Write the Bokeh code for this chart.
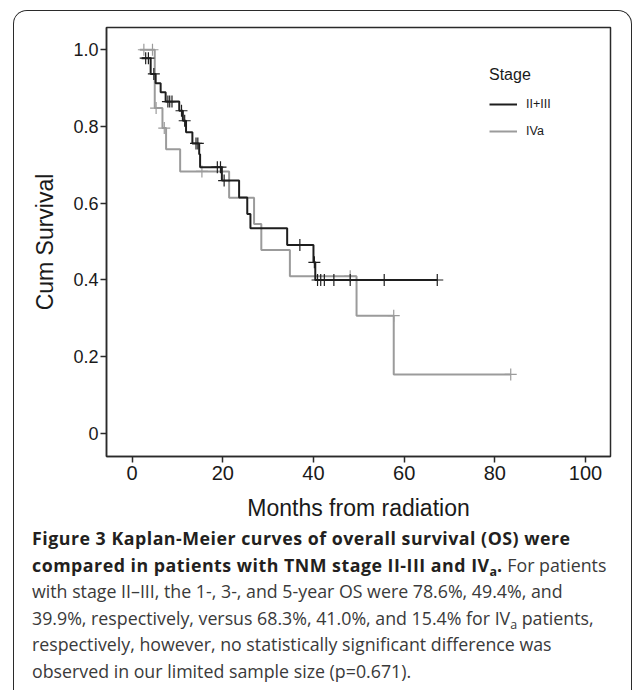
from bokeh.plotting import figure
from bokeh.models import Legend, LegendItem, FixedTicker, Div, Range1d
from bokeh.layouts import column
from bokeh.embed import file_html
from bokeh.resources import INLINE

# ---- data ----
x_ticks = [0, 20, 40, 60, 80, 100]
y_ticks = [0, 0.2, 0.4, 0.6, 0.8, 1.0]
y_tick_labels = ["0", "0.2", "0.4", "0.6", "0.8", "1.0"]

# Stage II+III : step points (time in months, survival after event)
bk_t = [2.1, 4.1, 5.2, 6.3, 7.4, 10.4, 11.2, 11.9, 13.3, 14.8, 15.0, 19.8, 23.6, 25.4, 26.1, 34.2, 40.0, 40.4, 67.3]
bk_s = [0.978, 0.937, 0.913, 0.889, 0.865, 0.841, 0.815, 0.785, 0.756, 0.728, 0.694, 0.659, 0.615, 0.572, 0.535, 0.491, 0.446, 0.400, 0.400]
# Stage II+III : censored observations
bk_ct = [3.0, 3.6, 4.8, 7.9, 8.3, 8.8, 10.9, 11.6, 14.1, 14.5, 18.8, 19.5, 20.3, 37.0, 40.2, 40.9, 41.6, 42.4, 44.5, 48.1, 55.6, 67.3]
bk_cs = [0.978, 0.978, 0.937, 0.865, 0.865, 0.865, 0.841, 0.815, 0.756, 0.756, 0.694, 0.694, 0.659, 0.491, 0.446, 0.400, 0.400, 0.400, 0.400, 0.400, 0.400, 0.400]

# Stage IVa : step points
gy_t = [1.7, 5.0, 6.7, 7.5, 10.6, 21.4, 26.9, 28.5, 34.8, 49.5, 57.7, 83.5]
gy_s = [1.0, 0.848, 0.796, 0.741, 0.683, 0.614, 0.546, 0.478, 0.410, 0.307, 0.154, 0.154]
# Stage IVa : censored observations
gy_ct = [2.6, 4.5, 5.3, 7.1, 15.4, 48.1, 57.7, 83.5]
gy_cs = [1.0, 1.0, 0.848, 0.796, 0.683, 0.410, 0.307, 0.154]

series_names = ["II+III", "IVa"]
legend_title = "Stage"
x_label = "Months from radiation"
y_label = "Cum Survival"

BLACK = "#1e1e1e"
GRAY = "#9b9b9b"
FONT = "Liberation Sans"

p = figure(width=613, height=517,
           x_range=Range1d(-5.64, 105.5), y_range=Range1d(-0.060, 1.058),
           output_backend="svg", toolbar_location=None,
           min_border_left=92, min_border_right=17, min_border_top=16, min_border_bottom=72)
p.background_fill_color = "white"
p.border_fill_color = "white"
p.xgrid.visible = False
p.ygrid.visible = False
p.outline_line_color = "#2a2a2a"
p.outline_line_width = 1.5

r_gy = p.step(gy_t, gy_s, mode="after", line_color=GRAY, line_width=2)
p.scatter(gy_ct, gy_cs, marker="cross", size=12, line_color=GRAY, line_width=1.2)
r_bk = p.step(bk_t, bk_s, mode="after", line_color=BLACK, line_width=2)
p.scatter(bk_ct, bk_cs, marker="cross", size=12, line_color=BLACK, line_width=1.2)

p.xaxis.ticker = FixedTicker(ticks=x_ticks)
p.yaxis.ticker = FixedTicker(ticks=y_ticks)
p.yaxis.major_label_overrides = {t: l for t, l in zip(y_ticks, y_tick_labels)}
p.xaxis.axis_label = x_label
p.yaxis.axis_label = y_label
for ax in (p.xaxis, p.yaxis):
    ax.axis_line_color = "#2a2a2a"
    ax.axis_line_width = 1.5
    ax.major_tick_line_color = "#2a2a2a"
    ax.major_tick_line_width = 1.5
    ax.major_tick_out = 6
    ax.major_tick_in = 0
    ax.minor_tick_line_color = None
    ax.major_label_text_font = FONT
    ax.major_label_text_color = "#1a1a1a"
    ax.axis_label_text_font = FONT
    ax.axis_label_text_font_style = "normal"
    ax.axis_label_text_color = "#1a1a1a"
    ax.axis_label_text_font_size = "23px"
p.xaxis.major_label_text_font_size = "20px"
p.yaxis.major_label_text_font_size = "18px"
p.xaxis.major_label_standoff = 3
p.yaxis.major_label_standoff = 2
p.xaxis.axis_label_standoff = 12
p.yaxis.axis_label_standoff = 12

legend = Legend(items=[LegendItem(label=series_names[0], renderers=[r_bk]),
                       LegendItem(label=series_names[1], renderers=[r_gy])],
                location=(383, 315), title=legend_title,
                title_text_font=FONT, title_text_font_size="16px", title_text_font_style="normal",
                title_text_color="#1a1a1a", title_standoff=10,
                label_text_font=FONT, label_text_font_size="12.5px", label_text_color="#1a1a1a",
                glyph_width=28, glyph_height=20, label_height=20, spacing=7, label_standoff=9,
                padding=0, margin=0, border_line_color=None, background_fill_alpha=0)
p.add_layout(legend)

caption_html = (
    "<div style=\"padding-left:13px; font-family:'Open Sans'; font-size:17.8px; line-height:26.6px; color:#3a3a3a;\">"
    "<b style='color:#231f20; letter-spacing:0.5px'>Figure 3 Kaplan-Meier curves of overall survival (OS) were<br>"
    "compared in patients with TNM stage II-III and IV<sub>a</sub>.</b> For patients<br>"
    "with stage II&ndash;III, the 1-, 3-, and 5-year OS were 78.6%, 49.4%, and<br>"
    "39.9%, respectively, versus 68.3%, 41.0%, and 15.4% for IV<sub>a</sub> patients,<br>"
    "respectively, however, no statistically significant difference was<br>"
    "observed in our limited sample size (p=0.671)."
    "</div>"
)
caption = Div(text=caption_html, width=613, height=166,
              styles={"margin-top": "-3px"},
              stylesheets=["sub { font-size: 0.7em; line-height: 0; vertical-align: -0.3em; letter-spacing: 0; }"])

layout = column(p, caption,
                styles={"border": "1.5px solid #2b2b2b", "border-bottom": "none",
                        "border-radius": "14px 14px 0 0", "margin-left": "13px", "margin-top": "10px",
                        "width": "619px", "box-sizing": "border-box", "overflow": "hidden"})

open("out.html", "w").write(file_html(layout, INLINE))
